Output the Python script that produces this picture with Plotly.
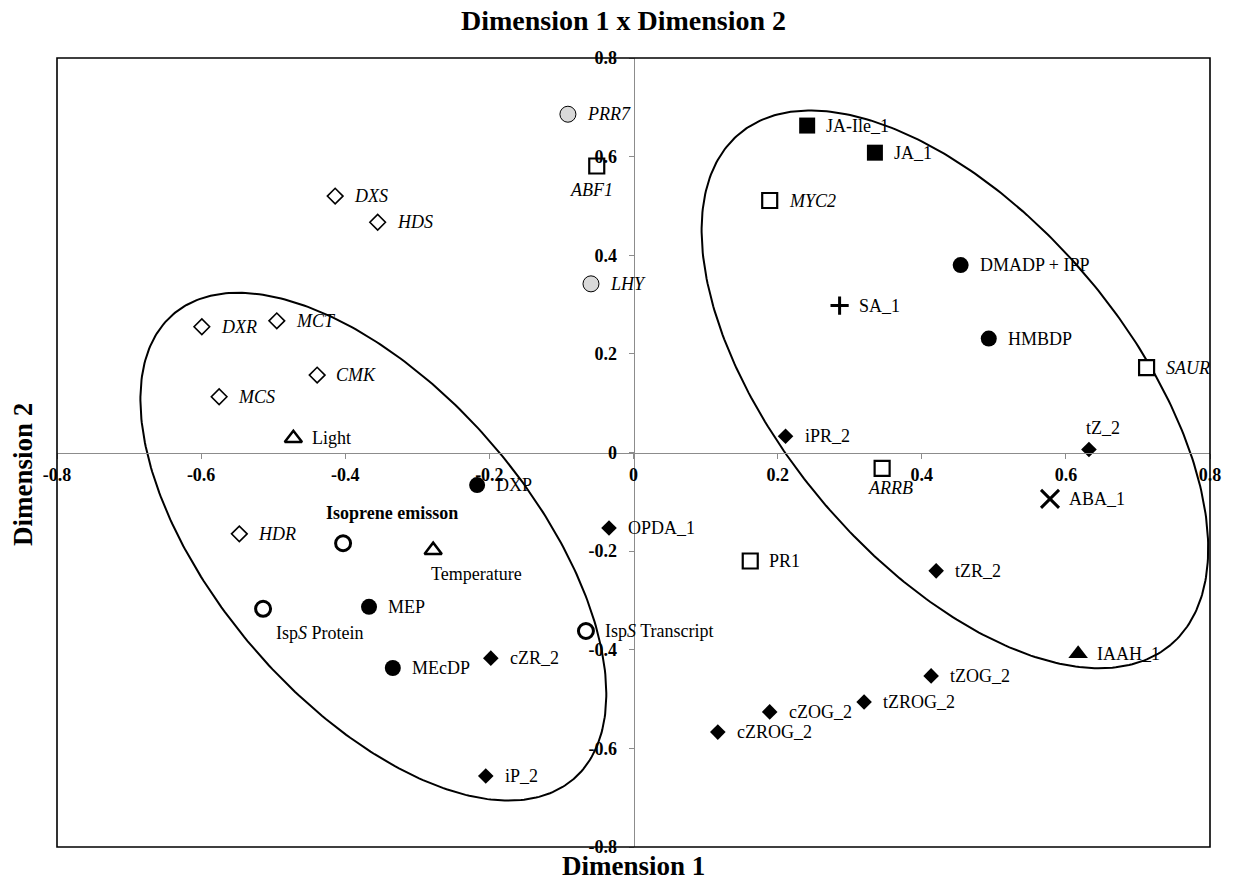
import numpy as np
import plotly.graph_objects as go

# ---------------- data ----------------
gene_mep_names = ["DXS", "HDS", "DXR", "MCT", "CMK", "MCS", "HDR"]
gene_mep_x = [-0.414, -0.355, -0.599, -0.495, -0.439, -0.575, -0.547]
gene_mep_y = [0.520, 0.467, 0.255, 0.267, 0.157, 0.113, -0.165]

clock_names = ["PRR7", "LHY"]
clock_x = [-0.091, -0.059]
clock_y = [0.686, 0.342]

hormone_gene_names = ["ABF1", "MYC2", "SAUR", "ARRB", "PR1"]
hormone_gene_x = [-0.051, 0.189, 0.712, 0.345, 0.162]
hormone_gene_y = [0.581, 0.511, 0.172, -0.032, -0.220]

jasmonate_names = ["JA-Ile_1", "JA_1"]
jasmonate_x = [0.241, 0.335]
jasmonate_y = [0.663, 0.608]

metabolite_names = ["DMADP + IPP", "HMBDP", "DXP", "MEP", "MEcDP"]
metabolite_x = [0.454, 0.493, -0.217, -0.367, -0.334]
metabolite_y = [0.380, 0.231, -0.066, -0.313, -0.437]

cytokinin_names = ["iPR_2", "tZ_2", "OPDA_1", "tZR_2", "cZR_2", "tZOG_2",
                   "tZROG_2", "cZOG_2", "cZROG_2", "iP_2"]
cytokinin_x = [0.211, 0.632, -0.034, 0.420, -0.198, 0.413, 0.320, 0.189, 0.117, -0.205]
cytokinin_y = [0.033, 0.006, -0.153, -0.240, -0.417, -0.453, -0.506, -0.526, -0.567, -0.656]

isoprene_names = ["Isoprene emisson", "IspS Protein", "IspS Transcript"]
isoprene_x = [-0.403, -0.514, -0.066]
isoprene_y = [-0.184, -0.317, -0.362]

environment_names = ["Light", "Temperature"]
environment_x = [-0.472, -0.278]
environment_y = [0.029, -0.198]

sa_names = ["SA_1"]
sa_x = [0.286]
sa_y = [0.298]

aba_names = ["ABA_1"]
aba_x = [0.578]
aba_y = [-0.094]

auxin_names = ["IAAH_1"]
auxin_x = [0.617]
auxin_y = [-0.408]

tick_vals = [-0.8, -0.6, -0.4, -0.2, 0, 0.2, 0.4, 0.6, 0.8]
tick_text = ["-0.8", "-0.6", "-0.4", "-0.2", "0", "0.2", "0.4", "0.6", "0.8"]

# grouping ellipses: centre and two conjugate semi-axis vectors (data units)
left_ellipse_center = (-0.361, -0.191)
left_ellipse_u = (0.278, -0.471)
left_ellipse_v = (-0.165, -0.208)
right_ellipse_center = (0.446, 0.128)
right_ellipse_u = (0.2995, -0.518)
right_ellipse_v = (-0.184, -0.227)

# ---------------- styles ----------------
FONT = "Liberation Serif"
italic_labels = set(gene_mep_names + clock_names + ["ABF1", "MYC2", "SAUR", "ARRB"])
label_display = {
    "IspS Protein": "Isp<i>S</i> Protein",
    "IspS Transcript": "Isp<i>S</i> Transcript",
    "Isoprene emisson": "<b>Isoprene emisson</b>",
}
# special label placements: (dx px, dy px downward), centred text
label_centered = {
    "ABF1": (-5, 24),
    "ARRB": (8, 20),
    "Temperature": (43, 24),
    "IspS Protein": (57, 24),
    "tZ_2": (14, -22),
    "Isoprene emisson": (49, -30),
}
right_gap = 18

groups = [
    (gene_mep_names, gene_mep_x, gene_mep_y,
     dict(symbol="diamond", size=12, color="white", line=dict(color="black", width=1.6))),
    (clock_names, clock_x, clock_y,
     dict(symbol="circle", size=16, color="#d9d9d9", line=dict(color="black", width=1))),
    (hormone_gene_names, hormone_gene_x, hormone_gene_y,
     dict(symbol="square", size=15, color="white", line=dict(color="black", width=2.2))),
    (jasmonate_names, jasmonate_x, jasmonate_y,
     dict(symbol="square", size=16, color="black", line=dict(color="black", width=0))),
    (metabolite_names, metabolite_x, metabolite_y,
     dict(symbol="circle", size=16, color="black", line=dict(color="black", width=0))),
    (cytokinin_names, cytokinin_x, cytokinin_y,
     dict(symbol="diamond", size=12, color="black", line=dict(color="black", width=0))),
    (isoprene_names, isoprene_x, isoprene_y,
     dict(symbol="circle", size=15, color="white", line=dict(color="black", width=3))),
    (environment_names, environment_x, environment_y,
     dict(symbol="triangle-up", size=15, color="white", line=dict(color="black", width=2.5))),
    (sa_names, sa_x, sa_y,
     dict(symbol="cross-thin", size=13, color="black", line=dict(color="black", width=3))),
    (aba_names, aba_x, aba_y,
     dict(symbol="x-thin", size=18, color="black", line=dict(color="black", width=3))),
    (auxin_names, auxin_x, auxin_y,
     dict(symbol="triangle-up", size=17, color="black", line=dict(color="black", width=0))),
]

fig = go.Figure()


def ellipse_path(c, u, v, n=361):
    t = np.linspace(0, 2 * np.pi, n)
    xs = c[0] + u[0] * np.cos(t) + v[0] * np.sin(t)
    ys = c[1] + u[1] * np.cos(t) + v[1] * np.sin(t)
    return xs, ys


for c, u, v in [(left_ellipse_center, left_ellipse_u, left_ellipse_v),
                (right_ellipse_center, right_ellipse_u, right_ellipse_v)]:
    ex, ey = ellipse_path(c, u, v)
    fig.add_trace(go.Scatter(x=ex, y=ey, mode="lines",
                             line=dict(color="black", width=2),
                             hoverinfo="skip", showlegend=False, cliponaxis=False))

annotations = []
for names, xs, ys, marker in groups:
    fig.add_trace(go.Scatter(x=xs, y=ys, mode="markers", marker=marker, text=names,
                             hoverinfo="text", showlegend=False, cliponaxis=False))
    for n, x, y in zip(names, xs, ys):
        txt = label_display.get(n, n)
        if n in italic_labels:
            txt = "<i>" + txt + "</i>"
        if n in label_centered:
            dx, dy = label_centered[n]
            annotations.append(dict(x=x, y=y, xref="x", yref="y", text=txt, showarrow=False,
                                    xanchor="center", yanchor="middle", xshift=dx, yshift=-dy,
                                    borderpad=0, font=dict(family=FONT, size=18, color="black")))
        else:
            annotations.append(dict(x=x, y=y, xref="x", yref="y", text=txt, showarrow=False,
                                    xanchor="left", yanchor="middle", xshift=right_gap, yshift=0,
                                    borderpad=0, font=dict(family=FONT, size=18, color="black")))

# axis titles
annotations.append(dict(x=0.5, y=-0.024, xref="paper", yref="paper", text="<b>Dimension 1</b>",
                        showarrow=False, xanchor="center", yanchor="middle",
                        font=dict(family=FONT, size=27, color="black")))
annotations.append(dict(x=-0.0295, y=0.4728, xref="paper", yref="paper", text="<b>Dimension 2</b>",
                        showarrow=False, xanchor="center", yanchor="middle", textangle=-90,
                        font=dict(family=FONT, size=27, color="black")))

axis_common = dict(
    range=[-0.8, 0.8], tickvals=tick_vals, ticktext=tick_text,
    showgrid=False, zeroline=False, showline=True, linecolor="#8c8c8c", linewidth=1,
    ticks="outside", ticklen=5, tickcolor="#8c8c8c", tickwidth=1,
    tickfont=dict(family=FONT, size=18, color="black", weight="bold"),
    anchor="free", position=0.5, fixedrange=True,
)

fig.update_layout(
    width=1233, height=882,
    margin=dict(l=57, r=23, t=58, b=35),
    paper_bgcolor="white", plot_bgcolor="white",
    showlegend=False,
    title=dict(text="<b>Dimension 1 x Dimension 2</b>", x=623.5 / 1233, xanchor="center",
               y=1 - 20 / 882, yanchor="middle",
               font=dict(family=FONT, size=28, color="black")),
    xaxis=dict(**axis_common, ticklabelstandoff=1),
    yaxis=dict(**axis_common, ticklabelstandoff=8),
    annotations=annotations,
    shapes=[dict(type="rect", xref="paper", yref="paper", x0=0, y0=0, x1=1, y1=1,
                 line=dict(color="black", width=1.6), layer="above")],
)

fig.write_html("out.html")
